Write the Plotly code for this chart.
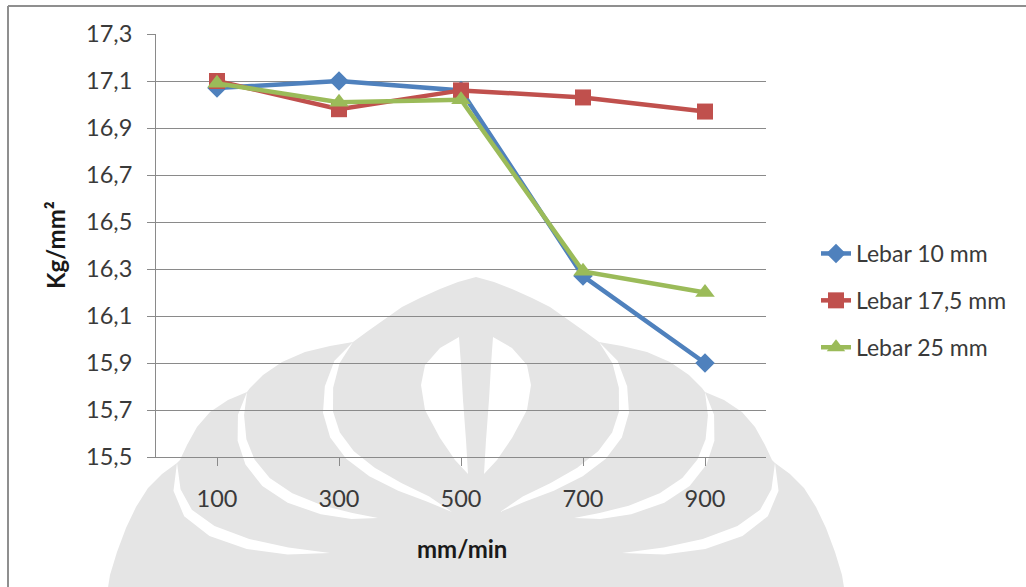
import math
import plotly.graph_objects as go

# ---- data -------------------------------------------------------------
speeds = ["100", "300", "500", "700", "900"]          # mm/min
lebar_10 = [17.07, 17.10, 17.06, 16.27, 15.90]        # Kg/mm²
lebar_17_5 = [17.10, 16.98, 17.06, 17.03, 16.97]
lebar_25 = [17.09, 17.01, 17.02, 16.29, 16.20]
y_ticks = [15.5, 15.7, 15.9, 16.1, 16.3, 16.5, 16.7, 16.9, 17.1, 17.3]

# ---- page geometry ----------------------------------------------------
W, H = 1026, 587
ML, MR, MT, MB = 156, 260, 34, 130
PW, PH = W - ML - MR, H - MT - MB
FONT = "Lato, 'Open Sans', sans-serif"
TXT = "#3a3a3a"
GRID = "#8a8a8a"
MARK_GRAY = "#e5e5e5"


def px(x):
    return (x - ML) / PW


def py(y):
    return (H - MB - y) / PH


def path_from(points, close=True):
    d = "M " + " L ".join(f"{px(x):.5f},{py(y):.5f}" for x, y in points)
    return d + (" Z" if close else "")


def mirror(points, cx=476):
    return [(2 * cx - x, y) for x, y in points]


def stripe(center, wmax, start_w=0.0, end_w=0.0):
    """Tapered ribbon polygon around a centre line."""
    n = len(center)
    left, right = [], []
    for i, (x, y) in enumerate(center):
        a = center[max(i - 1, 0)]
        b = center[min(i + 1, n - 1)]
        dx, dy = b[0] - a[0], b[1] - a[1]
        L = math.hypot(dx, dy) or 1.0
        nx, ny = -dy / L, dx / L
        t = i / (n - 1)
        w = wmax * math.sin(math.pi * t) ** 0.6
        w = max(w, start_w * (1 - t), end_w * t)
        left.append((x + nx * w / 2, y + ny * w / 2))
        right.append((x - nx * w / 2, y - ny * w / 2))
    return left + right[::-1]


# ---- background emblem (light gray, behind the grid) ------------------
outline_left = [
    (476, 277), (458, 282), (440, 289), (420, 298), (402, 307), (385, 319),
    (368, 331), (353, 342), (330, 346), (305, 352), (282, 362), (263, 375),
    (250, 388), (247, 392), (228, 400), (210, 412), (197, 427), (187, 445),
    (180, 460), (177, 463), (162, 474), (148, 488), (136, 507), (126, 528),
    (117, 552), (110, 575), (106, 600),
]
outline = outline_left + mirror(outline_left)[::-1]

lens_left = [
    (459, 337), (440, 348), (425, 365), (421, 385), (425, 410), (440, 438),
    (455, 460), (468, 474), (466, 440), (463, 400), (461, 365),
]

band_a = [(247, 392), (241, 415), (242, 440), (250, 462), (266, 482),
          (290, 498), (322, 510), (352, 516), (378, 518)]
band_b = [(353, 342), (337, 362), (329, 387), (328, 412), (335, 435),
          (350, 455), (372, 472), (400, 487), (428, 499), (452, 512)]
band_c = [(177, 463), (177, 490), (188, 513), (212, 531), (248, 544),
          (288, 551), (330, 553)]

shapes = [dict(type="path", xref="paper", yref="paper", layer="below",
               path=path_from(outline), fillcolor=MARK_GRAY, line_width=0)]
white_parts = [lens_left, mirror(lens_left)]
for band in (band_a, band_b, band_c):
    poly = stripe(band, 11)
    white_parts += [poly, mirror(poly)]
for poly in white_parts:
    shapes.append(dict(type="path", xref="paper", yref="paper", layer="below",
                       path=path_from(poly), fillcolor="white", line_width=0))

# frame around the chart (top and left edges)
shapes.append(dict(type="line", xref="paper", yref="paper", layer="above",
                   x0=px(8), x1=px(W + 5), y0=py(6), y1=py(6),
                   line=dict(color="#8f8f8f", width=2)))
shapes.append(dict(type="line", xref="paper", yref="paper", layer="above",
                   x0=px(8), x1=px(8), y0=py(6), y1=py(H + 5),
                   line=dict(color="#8f8f8f", width=2)))

# ---- series -----------------------------------------------------------
series = [
    ("Lebar 10 mm", lebar_10, "#4F81BD", "diamond", 15),
    ("Lebar 17,5 mm", lebar_17_5, "#C0504D", "square", 16),
    ("Lebar 25 mm", lebar_25, "#9BBB59", "triangle-up", 17),
]

fig = go.Figure()
for name, vals, color, symbol, size in series:
    fig.add_trace(go.Scatter(
        x=speeds, y=vals, name=name, mode="lines+markers",
        legendgroup=name,
        line=dict(color=color, width=4.5),
        marker=dict(symbol=symbol, size=size, color=color,
                    line=dict(width=0)),
    ))

fig.update_layout(
    width=W, height=H,
    margin=dict(l=ML, r=MR, t=MT, b=MB, pad=0),
    paper_bgcolor="white",
    plot_bgcolor="rgba(0,0,0,0)",
    separators=", ",
    font=dict(family=FONT, color=TXT, size=23),
    showlegend=True,
    legend=dict(
        x=px(816), y=py(232), xanchor="left", yanchor="top",
        font=dict(family=FONT, size=23, color=TXT),
        bgcolor="rgba(0,0,0,0)", tracegroupgap=14,
        itemwidth=30,
    ),
    shapes=shapes,
    annotations=[
        dict(text="<b>mm/min</b>", xref="paper", yref="paper",
             x=px(462), y=py(548), xanchor="center", yanchor="middle",
             showarrow=False, font=dict(family=FONT, size=24, color="#1a1a1a")),
        dict(text="<b>Kg/mm²</b>", xref="paper", yref="paper",
             x=px(55), y=py(245), xanchor="center", yanchor="middle",
             textangle=-90, showarrow=False,
             font=dict(family=FONT, size=24, color="#1a1a1a")),
    ],
)

fig.update_xaxes(
    type="category", range=[-0.5, 4.5],
    showgrid=False, showline=True, linecolor=GRID, linewidth=1,
    ticks="outside", ticklen=8, tickcolor=GRID, tickwidth=1,
    ticklabelstandoff=13,
    tickfont=dict(family=FONT, size=23.5, color=TXT),
    zeroline=False, fixedrange=True,
)
fig.update_yaxes(
    range=[15.5, 17.3], tickvals=y_ticks, tickformat=".1f",
    showgrid=True, gridcolor=GRID, gridwidth=1,
    showline=True, linecolor=GRID, linewidth=1,
    ticks="outside", ticklen=8, tickcolor=GRID, tickwidth=1,
    ticklabelstandoff=10,
    tickfont=dict(family=FONT, size=23.5, color=TXT),
    zeroline=False, fixedrange=True,
)

fig.write_html("out.html", config=dict(displayModeBar=False))
